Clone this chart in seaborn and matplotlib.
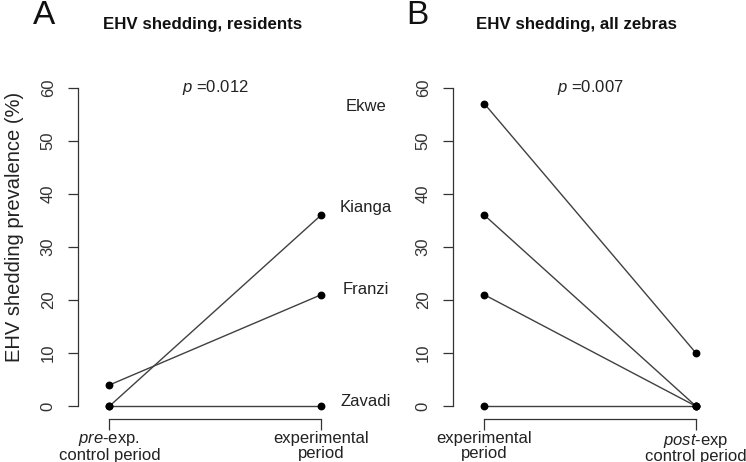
import matplotlib
matplotlib.use("Agg")
import matplotlib.pyplot as plt
import seaborn as sns
import pandas as pd

# ---- data ----
periods_A = [r"$\mathit{pre}$-exp." + "\ncontrol period", "experimental\nperiod"]
periods_B = ["experimental\nperiod", r"$\mathit{post}$-exp" + "\ncontrol period"]
residents = ["Kianga", "Franzi", "Zavadi"]
A_pre = [0, 4, 0]
A_exp = [36, 21, 0]
label_names = ["Ekwe", "Kianga", "Franzi", "Zavadi"]
label_y = [56.4, 37.4, 22.0, 0.9]
zebras = ["Ekwe", "Kianga", "Franzi", "Zavadi"]
B_exp = [57, 36, 21, 0]
B_post = [10, 0, 0, 0]
p_A = "0.012"
p_B = "0.007"
yticks = [0, 10, 20, 30, 40, 50, 60]

sns.set_theme(style="ticks")
plt.rcParams["font.family"] = ["Liberation Sans", "DejaVu Sans"]
plt.rcParams["mathtext.fontset"] = "custom"
plt.rcParams["mathtext.rm"] = "Liberation Sans"
plt.rcParams["mathtext.it"] = "Liberation Sans:italic"

dfA = pd.DataFrame({
    "id": residents + residents,
    "x": [0] * len(residents) + [1] * len(residents),
    "y": A_pre + A_exp,
})
dfB = pd.DataFrame({
    "id": zebras + zebras,
    "x": [0] * len(zebras) + [1] * len(zebras),
    "y": B_exp + B_post,
})

fig = plt.figure(figsize=(7.46, 4.62), dpi=100)
W, H = 746, 462
axA = fig.add_axes([78 / W, 43 / H, 274.4 / W, 344 / H])
axB = fig.add_axes([453 / W, 43 / H, 274.4 / W, 344 / H])

LINE = "#404040"
for ax, df, labels, p in [(axA, dfA, periods_A, p_A), (axB, dfB, periods_B, p_B)]:
    for animal in df["id"].unique():
        sub = df[df["id"] == animal].reset_index(drop=True)
        sns.lineplot(data=sub, x="x", y="y", estimator=None, sort=True, ax=ax,
                     color=LINE, lw=1.0, legend=False, zorder=6)
    sns.scatterplot(data=df, x="x", y="y", ax=ax, color="black", s=32,
                    edgecolor="black", linewidth=0, legend=False, zorder=7)
    ax.set_xlim(-0.148, 1.148)
    ax.set_ylim(-2.4, 62.4)
    ax.set_xticks([0, 1])
    ax.set_xticklabels(labels, fontsize=12, linespacing=0.92, color="#222222")
    ax.set_yticks(yticks)
    ax.set_yticklabels([str(v) for v in yticks], rotation=90, va="center",
                       fontsize=12, color="#333333")
    for s in ["top", "right"]:
        ax.spines[s].set_visible(False)
    ax.spines["left"].set_bounds(0, 60)
    ax.spines["bottom"].set_bounds(0, 1)
    for s in ["left", "bottom"]:
        ax.spines[s].set_color("#333333")
        ax.spines[s].set_linewidth(0.9)
    ax.tick_params(axis="y", length=7, width=0.9, color="#333333", pad=9)
    ax.tick_params(axis="x", length=8, width=0.9, color="#333333", pad=1)
    ax.set_xlabel("")
    ax.set_ylabel("")
    ax.set_facecolor("white")
    ax.text(0.5, 60, r"$\mathit{p}$ =" + p, ha="center", va="center",
            fontsize=12, color="#222222")

for name, yy in zip(label_names, label_y):
    axA.text(1.212, yy, name, ha="center", va="center", fontsize=12,
             color="#222222", clip_on=False)

fig.text(15 / W, 1 - 227 / H, "EHV shedding prevalence (%)", rotation=90,
         ha="center", va="center", fontsize=14.5, color="#222222")
fig.text(203 / W, 1 - 25 / H, "EHV shedding, residents", ha="center", va="center",
         fontsize=12.2, fontweight="bold", color="#111111")
fig.text(577 / W, 1 - 25 / H, "EHV shedding, all zebras", ha="center", va="center",
         fontsize=12.2, fontweight="bold", color="#111111")
fig.text(44 / W, 1 - 15 / H, "A", ha="center", va="center", fontsize=24, color="#111111")
fig.text(417 / W, 1 - 15 / H, "B", ha="center", va="center", fontsize=24, color="#111111")

fig.savefig("out.png", dpi=100, facecolor="white")
